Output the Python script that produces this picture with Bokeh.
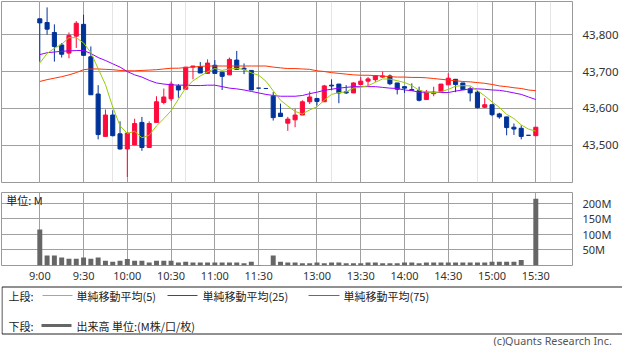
from bokeh.plotting import figure
from bokeh.models import Range1d, FixedTicker, Grid, NumeralTickFormatter, ColumnDataSource
from bokeh.layouts import column
from bokeh.embed import file_html
from bokeh.resources import INLINE
from bokeh.core.properties import value

# ---------------- data ----------------
opens = [43843, 43833, 43806, 43772, 43750, 43796, 43828, 43740, 43639, 43524,
         43582, 43531, 43490, 43501, 43562, 43494, 43562, 43616, 43626, 43661,
         43652, 43712, 43713, 43695, 43717, 43698, 43691, 43731, 43709, 43703,
         43655, 43654, 43633, 43587, 43560, 43569, 43582, 43618, 43627, 43618,
         43663, 43666, 43645, 43642, 43665, 43674, 43678, 43685, 43688, 43669,
         43659, 43651, 43648, 43624, 43640, 43646, 43664, 43679, 43669, 43653,
         43644, 43603, 43610, 43585, 43577, 43549, 43546, 43527, 43526]
highs = [43843, 43874, 43828, 43777, 43806, 43837, 43854, 43768, 43663, 43597,
         43595, 43565, 43533, 43572, 43577, 43565, 43633, 43654, 43673, 43666,
         43712, 43715, 43726, 43733, 43731, 43698, 43738, 43756, 43722, 43703,
         43655, 43654, 43644, 43613, 43577, 43599, 43622, 43646, 43627, 43664,
         43679, 43666, 43663, 43671, 43685, 43685, 43689, 43700, 43692, 43669,
         43659, 43668, 43659, 43650, 43659, 43666, 43695, 43679, 43669, 43659,
         43648, 43628, 43610, 43588, 43577, 43559, 43554, 43527, 43549]
lows = [43727, 43800, 43727, 43738, 43736, 43764, 43742, 43637, 43516, 43524,
        43524, 43488, 43414, 43501, 43485, 43494, 43562, 43611, 43620, 43629,
        43652, 43679, 43696, 43695, 43695, 43650, 43691, 43706, 43693, 43650,
        43655, 43654, 43567, 43578, 43539, 43549, 43582, 43612, 43608, 43618,
        43649, 43614, 43639, 43642, 43663, 43661, 43672, 43683, 43663, 43638,
        43642, 43648, 43619, 43624, 43633, 43646, 43664, 43644, 43651, 43619,
        43600, 43601, 43579, 43572, 43527, 43528, 43516, 43527, 43526]
closes = [43832, 43815, 43768, 43747, 43798, 43831, 43744, 43637, 43529, 43582,
          43526, 43490, 43533, 43559, 43494, 43559, 43618, 43631, 43666, 43650,
          43712, 43715, 43696, 43723, 43695, 43687, 43733, 43706, 43706, 43650,
          43655, 43654, 43575, 43578, 43571, 43582, 43618, 43631, 43619, 43661,
          43661, 43642, 43642, 43669, 43674, 43680, 43689, 43688, 43667, 43652,
          43655, 43649, 43622, 43644, 43644, 43666, 43682, 43665, 43651, 43642,
          43602, 43610, 43583, 43577, 43548, 43544, 43524, 43527, 43549]
volumes = [115, 32, 32, 26, 22, 22, 26, 22, 26, 15,
           12, 15, 21, 15, 15, 10, 15, 15, 15, 10,
           12, 10, 10, 10, 10, 10, 10, 10, 7, 12,
           2, 0, 32, 12, 10, 10, 7, 7, 10, 7,
           10, 10, 7, 7, 7, 10, 10, 7, 7, 7,
           10, 10, 7, 10, 10, 10, 10, 10, 10, 10,
           10, 10, 12, 12, 12, 12, 18, 1, 214]
ma5 = [43723, 43749, 43763, 43774, 43792.0, 43791.8, 43777.6, 43751.4, 43707.8, 43664.6,
       43603.6, 43552.8, 43532.0, 43538.0, 43520.4, 43527.0, 43552.6, 43572.2, 43593.6, 43624.8,
       43655.4, 43674.8, 43687.8, 43699.2, 43708.2, 43703.2, 43706.8, 43708.8, 43705.4, 43696.4,
       43690.0, 43674.0, 43647.8, 43622.2, 43606.4, 43591.8, 43584.8, 43596.0, 43604.2, 43622.2,
       43638.0, 43642.8, 43645.0, 43655.0, 43657.6, 43661.4, 43670.8, 43680.0, 43679.6, 43675.2,
       43670.2, 43662.2, 43649.0, 43644.4, 43642.8, 43645.0, 43651.6, 43660.2, 43661.6, 43661.2,
       43648.4, 43634.0, 43617.6, 43602.8, 43584.0, 43572.4, 43555.2, 43544.0, 43538.4]
ma25 = [43746, 43751, 43753, 43755, 43756, 43757, 43757, 43749, 43738, 43730,
        43721, 43712, 43700, 43691, 43685, 43676, 43669, 43666, 43664, 43663,
        43663, 43662, 43662, 43663, 43663, 43659, 43655, 43653, 43650, 43646,
        43642, 43638, 43635, 43633, 43633, 43633, 43635, 43640, 43644, 43649,
        43652, 43655, 43657, 43659, 43659, 43659, 43659, 43657, 43655, 43654,
        43650, 43648, 43644, 43644, 43644, 43643, 43643, 43647, 43650, 43653,
        43653, 43652, 43650, 43649, 43646, 43642, 43638, 43631, 43624]
ma75 = [43673, 43678, 43682, 43686, 43691, 43697, 43705, 43707, 43707, 43706,
        43705, 43703, 43702, 43702, 43703, 43704, 43705, 43707, 43709, 43709,
        43711, 43712, 43714, 43715, 43715, 43715, 43715, 43715, 43715, 43715,
        43715, 43715, 43712, 43710, 43708, 43708, 43707, 43706, 43702, 43700,
        43697, 43695, 43693, 43691, 43690, 43690, 43689, 43688, 43686, 43685,
        43685, 43684, 43684, 43683, 43681, 43679, 43677, 43675, 43673, 43672,
        43670, 43668, 43665, 43661, 43659, 43656, 43654, 43650, 43648]
tick_labels = ["9:00", "9:30", "10:00", "10:30", "11:00", "11:30",
               "13:00", "13:30", "14:00", "14:30", "15:00", "15:30"]
price_ticks = [43500, 43600, 43700, 43800]
vol_ticks = [50, 100, 150, 200]

# candle time slots: morning 9:00-11:30, one break slot, afternoon 12:30-15:30
times = []
for m in range(9 * 60, 11 * 60 + 31, 5):
    times.append(f"{m // 60}:{m % 60:02d}")
times.append("")
for m in range(12 * 60 + 30, 15 * 60 + 31, 5):
    times.append(f"{m // 60}:{m % 60:02d}")
tick_idx = [times.index(t) for t in tick_labels]

# ---------------- styling ----------------
RED = "#ff0a3c"
BLUE = "#003399"
GRID = "#a0a0a0"
OUT = "#999999"
NUM_FONT = "Noto Sans"
JP_FONT = "Noto Sans CJK JP"

x = list(range(len(closes)))
cols = [RED if c > o else BLUE for o, c in zip(opens, closes)]
src = ColumnDataSource(dict(
    x=x, o=opens, h=highs, l=lows, c=closes,
    top=[max(o, c) for o, c in zip(opens, closes)],
    bot=[min(o, c) for o, c in zip(opens, closes)],
    col=cols, vol=volumes, ma5=ma5, ma25=ma25, ma75=ma75,
))

xr = Range1d(-5.25, 73.03)


def style_axis(ax, size, standoff):
    ax.axis_line_color = None
    ax.major_tick_line_color = None
    ax.minor_tick_line_color = None
    ax.major_tick_out = 0
    ax.major_tick_in = 0
    ax.minor_tick_out = 0
    ax.minor_tick_in = 0
    ax.major_label_standoff = standoff
    ax.major_label_text_font = NUM_FONT
    ax.major_label_text_font_size = size
    ax.major_label_text_color = "#333333"


# ---------------- upper panel ----------------
p1 = figure(width=622, height=191, x_range=xr, y_range=Range1d(43399, 43890),
            output_backend="svg", toolbar_location=None,
            x_axis_location=None, y_axis_location="right",
            min_border_left=1, min_border_right=50, min_border_top=1, min_border_bottom=9)
p1.outline_line_color = OUT
p1.yaxis.ticker = FixedTicker(ticks=price_ticks)
p1.yaxis.formatter = NumeralTickFormatter(format="0,0")
style_axis(p1.yaxis[0], "11.5px", 10)
p1.ygrid.grid_line_color = GRID
p1.add_layout(Grid(dimension=0, ticker=FixedTicker(ticks=tick_idx), grid_line_color=GRID))

p1.segment(x0="x", x1="x", y0="l", y1="h", color="col", line_width=1, source=src)
p1.vbar(x="x", width=0.56, top="top", bottom="bot", fill_color="col", line_color="col",
        line_width=1, source=src)
p1.line(x="x", y="ma75", color="#ff3300", line_width=1, source=src)
p1.line(x="x", y="ma25", color="#9900ff", line_width=1, source=src)
p1.line(x="x", y="ma5", color="#99cc00", line_width=1, source=src)

# ---------------- volume panel ----------------
p2 = figure(width=622, height=94, x_range=xr, y_range=Range1d(0, 234),
            output_backend="svg", toolbar_location=None,
            x_axis_location="below", y_axis_location="right",
            min_border_left=1, min_border_right=50, min_border_top=1, min_border_bottom=17)
p2.outline_line_color = OUT
p2.yaxis.ticker = FixedTicker(ticks=vol_ticks)
p2.yaxis.major_label_overrides = {v: f"{v}M" for v in vol_ticks}
p2.xaxis.ticker = FixedTicker(ticks=tick_idx)
p2.xaxis.major_label_overrides = {i: t for i, t in zip(tick_idx, tick_labels)}
style_axis(p2.yaxis[0], "11px", 10)
style_axis(p2.xaxis[0], "11px", 2)
p2.xgrid.grid_line_color = GRID
p2.ygrid.grid_line_color = GRID
p2.vbar(x="x", width=0.68, top="vol", bottom=0, fill_color="#666666", line_color=None, source=src)
p2.text(x=[-4.6], y=[209], text=["単位: M"], text_font=value(JP_FONT),
        text_font_size=value("11px"), text_baseline="middle", text_color="#222222")

# ---------------- legend panel ----------------
p3 = figure(frame_width=622, frame_height=61, x_range=Range1d(0, 622), y_range=Range1d(61, 0),
            output_backend="svg", toolbar_location=None,
            x_axis_location=None, y_axis_location=None,
            min_border_left=0, min_border_right=0, min_border_top=0, min_border_bottom=0)
p3.outline_line_color = None
p3.grid.visible = False
p3.quad(left=[0.5], right=[621.5], top=[1.5], bottom=[48.5], fill_color=None,
        line_color="#222222", line_width=1)
p3.segment(x0=[41, 166, 307], x1=[71, 196, 338], y0=[10, 10, 10], y1=[10, 10, 10],
           line_color=["#99cc00", "#9900ff", "#ff3300"], line_width=1)
p3.segment(x0=[40], x1=[70], y0=[40], y1=[40], line_color="#666666", line_width=3)
p3.text(x=[7, 75, 201, 342, 7, 75], y=[10, 10, 10, 10, 40, 40],
        text=["上段:", "単純移動平均(5)", "単純移動平均(25)", "単純移動平均(75)",
              "下段:", "出来高 単位:(M株/口/枚)"],
        text_font=value(JP_FONT), text_font_size=value("11px"),
        text_baseline="middle", text_color="#222222")
p3.text(x=[492], y=[55], text=["(c)Quants Research Inc."], text_font=value(NUM_FONT),
        text_font_size=value("10.75px"), text_baseline="middle", text_align="left",
        text_color="#555555")

layout = column(p1, p2, p3, spacing=0)
open("out.html", "w").write(file_html(layout, INLINE))
